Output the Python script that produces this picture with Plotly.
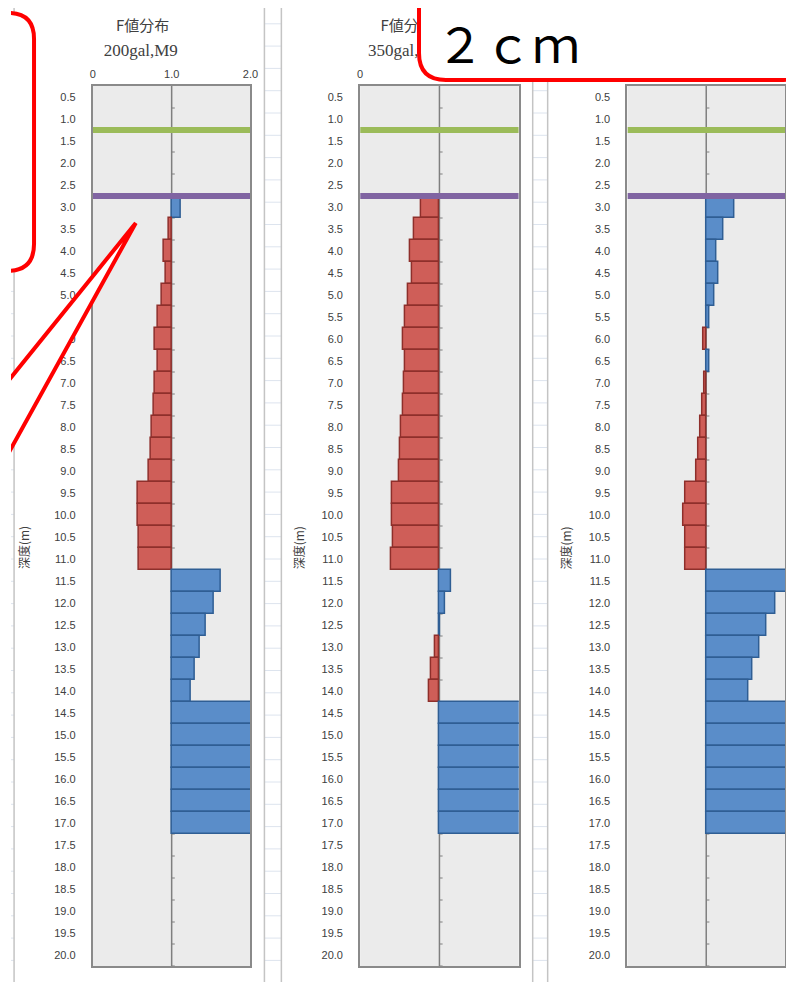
import plotly.graph_objects as go

# ---------------- data ----------------
depth_labels = ["0.5", "1.0", "1.5", "2.0", "2.5", "3.0", "3.5", "4.0", "4.5", "5.0",
                "5.5", "6.0", "6.5", "7.0", "7.5", "8.0", "8.5", "9.0", "9.5", "10.0",
                "10.5", "11.0", "11.5", "12.0", "12.5", "13.0", "13.5", "14.0", "14.5", "15.0",
                "15.5", "16.0", "16.5", "17.0", "17.5", "18.0", "18.5", "19.0", "19.5", "20.0"]
depths = [float(s) for s in depth_labels]

# F values (bars drawn from the F = 1.0 axis); None = no bar
f_panel1 = [None, None, None, None, None,
            1.12, 0.97, 0.90, 0.93, 0.87, 0.82, 0.79, 0.83, 0.79, 0.78,
            0.75, 0.73, 0.71, 0.57, 0.57, 0.59, 0.59,
            1.63, 1.54, 1.44, 1.36, 1.30, 1.24,
            2.50, 2.50, 2.50, 2.50, 2.50, 2.50,
            None, None, None, None, None, None]
f_panel2 = [None, None, None, None, None,
            0.77, 0.68, 0.63, 0.65, 0.60, 0.57, 0.54, 0.57, 0.55, 0.54,
            0.52, 0.51, 0.49, 0.40, 0.40, 0.41, 0.39,
            1.15, 1.07, 1.01, 0.95, 0.90, 0.87,
            2.50, 2.50, 2.50, 2.50, 2.50, 2.50,
            None, None, None, None, None, None]
f_panel3 = [None, None, None, None, None,
            1.36, 1.22, 1.13, 1.16, 1.10, 1.04, 0.97, 1.04, 0.98, 0.95,
            0.93, 0.90, 0.88, 0.73, 0.71, 0.73, 0.73,
            2.50, 1.88, 1.77, 1.67, 1.59, 1.53,
            2.50, 2.50, 2.50, 2.50, 2.50, 2.50,
            None, None, None, None, None, None]

# titles visible in the picture (third panel's title is hidden by the callout box)
panel_titles = ["F値分布", "F値分布"]
panel_subtitles = ["200gal,M9", "350gal,M9"]
x_tick_vals = [0, 1, 2]
x_tick_text = [["0", "1.0", "2.0"], ["0", "", ""], ["", "", ""]]
y_axis_title = "深度(m)"
fl_base = 1.0
groundwater_depth = 1.25
layer_boundary_depth = 2.75
callout_text = "２ｃｍ"

# ---------------- layout helpers ----------------
OFF = 8                 # page body margin
SX = 794 / 803          # horizontal scale observed in the photographed page
W, H = 803 - OFF, 982 - OFF
RED, RED_LINE = "#CF5E58", "#8E2F2B"
BLUE, BLUE_LINE = "#5A8DC9", "#2F5E94"
GREEN, PURPLE = "#9BBB59", "#8064A2"
PLOT_BG = "#EBEBEB"
BORDER = "#8A8A8A"
TXT = "#404040"

def px(x):
    return (x / SX - OFF) / W

def py(y):
    return 1 - (y - OFF) / H

panel_px = [(90, 248), (358, 517), (626, 784)]
frame_px = [(11, 262), (279, 531), (546, 805)]
plot_top, plot_bottom = 86, 966
title_x = [140, 405]
ytitle_x = [20, 296, 563]

fig = go.Figure()
shapes = []

# background spreadsheet grid
k = 0
while 1.5 + 22.3 * k < H + OFF:
    yy = 1.5 + 22.3 * k
    if yy > OFF:
        shapes.append(dict(type="line", xref="paper", yref="paper", x0=0, x1=1,
                           y0=py(yy), y1=py(yy), line=dict(color="#DDE4EE", width=1),
                           layer="below"))
    k += 1
# chart frames
for (fx0, fx1) in frame_px:
    shapes.append(dict(type="rect", xref="paper", yref="paper", x0=px(fx0), x1=min(px(fx1), 1.02),
                       y0=-0.02, y1=py(3), fillcolor="white",
                       line=dict(color="#C4C4C4", width=1.5), layer="below"))
# plot area backgrounds
for (x0, x1) in panel_px:
    shapes.append(dict(type="rect", xref="paper", yref="paper", x0=px(x0), x1=px(x1),
                       y0=py(plot_bottom), y1=py(plot_top), fillcolor=PLOT_BG,
                       line=dict(width=0), layer="below"))

series = [f_panel1, f_panel2, f_panel3]
for i, (vals, (x0, x1)) in enumerate(zip(series, panel_px)):
    n = "" if i == 0 else str(i + 1)
    xa, ya = "x" + n, "y" + n
    # axis line at F = 1.0 and its small tick marks
    shapes.append(dict(type="line", xref=xa, yref=ya + " domain", x0=fl_base, x1=fl_base,
                       y0=0, y1=1, line=dict(color="#7F7F7F", width=1.5), layer="below"))
    for d in depths:
        shapes.append(dict(type="line", xref=xa, yref=ya, x0=fl_base, x1=fl_base + 0.04,
                           y0=d + 0.25, y1=d + 0.25, line=dict(color="#7F7F7F", width=1),
                           layer="below"))
    lengths = [None if v is None else v - fl_base for v in vals]
    fills = [RED if (v is not None and v < fl_base) else BLUE for v in vals]
    lines = [RED_LINE if (v is not None and v < fl_base) else BLUE_LINE for v in vals]
    fig.add_trace(go.Bar(y=depths, x=lengths, base=fl_base, orientation="h", width=0.5,
                         marker=dict(color=fills, line=dict(color=lines, width=1.5)),
                         xaxis=xa, yaxis=ya, showlegend=False))
    fig.add_trace(go.Scatter(x=[0, 2], y=[groundwater_depth] * 2, mode="lines",
                             line=dict(color=GREEN, width=6), xaxis=xa, yaxis=ya,
                             showlegend=False))
    fig.add_trace(go.Scatter(x=[0, 2], y=[layer_boundary_depth] * 2, mode="lines",
                             line=dict(color=PURPLE, width=6), xaxis=xa, yaxis=ya,
                             showlegend=False))
    fig.update_layout(**{
        "xaxis" + n: dict(domain=[px(x0), px(x1)], range=[0, 2], side="top",
                          tickvals=x_tick_vals, ticktext=x_tick_text[i], ticks="",
                          showline=True, mirror=True, linecolor=BORDER, linewidth=2,
                          showgrid=False, zeroline=False, anchor=ya,
                          tickfont=dict(family="Liberation Sans", size=11, color=TXT),
                          ticklabelstandoff=2),
        "yaxis" + n: dict(domain=[py(plot_bottom), py(plot_top)], range=[20.25, 0.25],
                          tickvals=depths, ticktext=depth_labels, ticks="",
                          showline=True, mirror=True, linecolor=BORDER, linewidth=2,
                          showgrid=False, zeroline=False, anchor=xa,
                          tickfont=dict(family="Liberation Sans", size=11, color=TXT),
                          ticklabelstandoff=13),
    })

# full-page pixel axes (reference-picture pixel coordinates)
fig.update_layout(
    xaxis4=dict(domain=[0, 1], range=[SX * OFF, SX * (W + OFF)], visible=False,
                anchor="y4", fixedrange=True),
    yaxis4=dict(domain=[0, 1], range=[H + OFF, OFF], visible=False, anchor="x4",
                fixedrange=True),
)
fig.add_trace(go.Scatter(x=title_x, y=[27] * len(title_x), mode="text", text=panel_titles,
                         textfont=dict(family="Noto Sans CJK JP", size=15, color=TXT),
                         xaxis="x4", yaxis="y4", showlegend=False, cliponaxis=False,
                         hoverinfo="skip"))
fig.add_trace(go.Scatter(x=[t - 2 for t in title_x], y=[52] * len(title_x), mode="text",
                         text=panel_subtitles,
                         textfont=dict(family="Liberation Serif", size=17, color=TXT),
                         xaxis="x4", yaxis="y4", showlegend=False, cliponaxis=False,
                         hoverinfo="skip"))

# callout shapes (drawn above)
shapes.append(dict(type="path", xref="x4", yref="y4", layer="above",
                   path="M -20,13 L 5,13 Q 31,13 31,39 L 31,244 Q 31,271 4,271 L -20,271 Z",
                   fillcolor="white", line=dict(color="#FF0000", width=4)))
shapes.append(dict(type="path", xref="x4", yref="y4", layer="above",
                   path="M -20,412 L 133,223 L -20,499 Z",
                   fillcolor="white", line=dict(color="#FF0000", width=4)))
shapes.append(dict(type="path", xref="x4", yref="y4", layer="above",
                   path="M 417,-20 L 417,53 Q 417,80 444,80 L 780,80 Q 806,80 806,54 L 806,-20 Z",
                   fillcolor="white", line=dict(color="#FF0000", width=4)))

annotations = []
for xx in ytitle_x:
    annotations.append(dict(xref="x4", yref="y4", x=xx, y=548, text=y_axis_title,
                            textangle=-90, showarrow=False,
                            font=dict(family="Noto Sans CJK JP", size=12, color=TXT)))
annotations.append(dict(xref="x4", yref="y4", x=506, y=42, text=callout_text,
                        showarrow=False,
                        font=dict(family="Noto Sans CJK JP", size=48, color="black")))

fig.update_layout(width=W, height=H, margin=dict(l=0, r=0, t=0, b=0, pad=0),
                  paper_bgcolor="white", plot_bgcolor="rgba(0,0,0,0)",
                  bargap=0, showlegend=False, shapes=shapes, annotations=annotations)

fig.write_html("out.html")
